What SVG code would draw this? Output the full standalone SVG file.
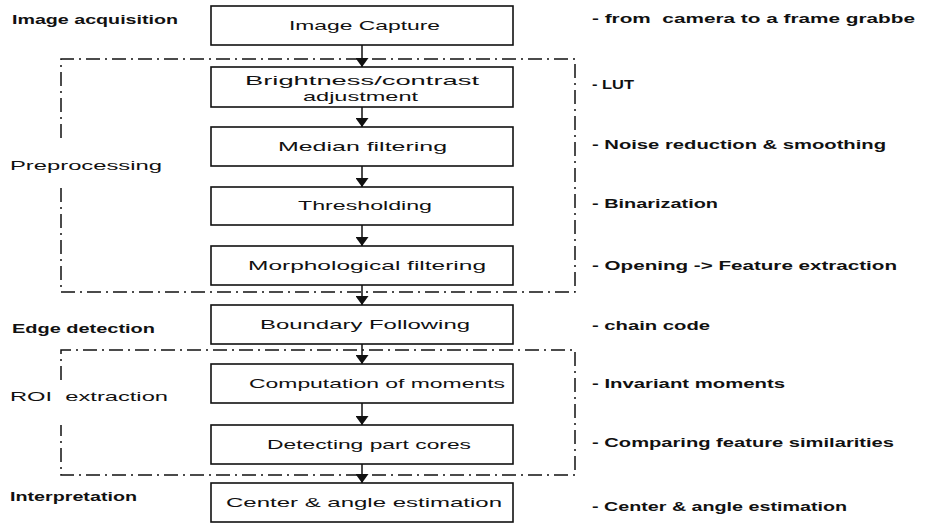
<svg xmlns="http://www.w3.org/2000/svg" width="925" height="525" viewBox="0 0 925 525">
<defs>
<style>
.box{fill:#fff;stroke:#111;stroke-width:1.6}
.frame{fill:none;stroke:#111;stroke-width:1.5;stroke-dasharray:14 5 2 5}
.bt{font-family:"Liberation Sans",Arial,sans-serif;font-size:13px;fill:#111}
.lb{font-family:"Liberation Sans",Arial,sans-serif;font-size:12px;font-weight:bold;fill:#111}
.ln{font-family:"Liberation Sans",Arial,sans-serif;font-size:13px;fill:#111}
.rl{font-family:"Liberation Sans",Arial,sans-serif;font-size:12px;font-weight:bold;fill:#111}
.conn{stroke:#111;stroke-width:1.5;fill:none}
</style>
<marker id="ah" viewBox="0 0 9 13" refX="9" refY="6.5" markerWidth="9" markerHeight="13" markerUnits="userSpaceOnUse" orient="auto">
<path d="M0,0 L9,6.5 L0,13 Z" fill="#111"/>
</marker>
</defs>
<rect width="925" height="525" fill="#fff"/>

<g id="frames">
<path class="frame" d="M61,138 L61,59 L575,59 L575,292 L61,292 L61,184"/>
<path class="frame" d="M61,380 L61,350 L575,350 L575,475 L61,475 L61,425"/>
</g>

<g id="connectors">
<line class="conn" x1="362" y1="45" x2="362" y2="67" marker-end="url(#ah)"/>
<line class="conn" x1="362" y1="107" x2="362" y2="127" marker-end="url(#ah)"/>
<line class="conn" x1="362" y1="166" x2="362" y2="187" marker-end="url(#ah)"/>
<line class="conn" x1="362" y1="225" x2="362" y2="246" marker-end="url(#ah)"/>
<line class="conn" x1="362" y1="285" x2="362" y2="305" marker-end="url(#ah)"/>
<line class="conn" x1="362" y1="344" x2="362" y2="364" marker-end="url(#ah)"/>
<line class="conn" x1="362" y1="403" x2="362" y2="425" marker-end="url(#ah)"/>
<line class="conn" x1="362" y1="464" x2="362" y2="483" marker-end="url(#ah)"/>
</g>

<g id="n1"><rect class="box" x="211" y="6" width="302" height="39"/><text class="bt" x="289" y="30" textLength="151" lengthAdjust="spacingAndGlyphs">Image Capture</text></g>
<g id="n2"><rect class="box" x="211" y="67" width="302" height="40"/><text class="bt" x="245" y="85" textLength="234" lengthAdjust="spacingAndGlyphs">Brightness/contrast</text><text class="bt" x="303" y="101" textLength="115" lengthAdjust="spacingAndGlyphs">adjustment</text></g>
<g id="n3"><rect class="box" x="211" y="127" width="302" height="39"/><text class="bt" x="278" y="151" textLength="169" lengthAdjust="spacingAndGlyphs">Median filtering</text></g>
<g id="n4"><rect class="box" x="211" y="187" width="302" height="38"/><text class="bt" x="298" y="210" textLength="134" lengthAdjust="spacingAndGlyphs">Thresholding</text></g>
<g id="n5"><rect class="box" x="211" y="246" width="302" height="39"/><text class="bt" x="248" y="270" textLength="238" lengthAdjust="spacingAndGlyphs">Morphological filtering</text></g>
<g id="n6"><rect class="box" x="211" y="305" width="302" height="39"/><text class="bt" x="260" y="329" textLength="210" lengthAdjust="spacingAndGlyphs">Boundary Following</text></g>
<g id="n7"><rect class="box" x="211" y="364" width="302" height="39"/><text class="bt" x="249" y="388" textLength="256" lengthAdjust="spacingAndGlyphs">Computation of moments</text></g>
<g id="n8"><rect class="box" x="211" y="425" width="302" height="39"/><text class="bt" x="267" y="449" textLength="204" lengthAdjust="spacingAndGlyphs">Detecting part cores</text></g>
<g id="n9"><rect class="box" x="211" y="483" width="302" height="39"/><text class="bt" x="226" y="507" textLength="276" lengthAdjust="spacingAndGlyphs">Center &amp; angle estimation</text></g>

<g id="left-labels">
<text class="lb" x="12" y="24" textLength="166" lengthAdjust="spacingAndGlyphs">Image acquisition</text>
<text class="ln" x="10" y="170" textLength="152" lengthAdjust="spacingAndGlyphs">Preprocessing</text>
<text class="lb" x="12" y="333" textLength="143" lengthAdjust="spacingAndGlyphs">Edge detection</text>
<text class="ln" x="10" y="401" textLength="158" lengthAdjust="spacingAndGlyphs" xml:space="preserve">ROI  extraction</text>
<text class="lb" x="10" y="501" textLength="127" lengthAdjust="spacingAndGlyphs">Interpretation</text>
</g>

<g id="right-labels">
<text class="rl" x="592" y="23" textLength="323" lengthAdjust="spacingAndGlyphs" xml:space="preserve">- from  camera to a frame grabbe</text>
<text class="rl" x="592" y="89" textLength="42" lengthAdjust="spacingAndGlyphs">- LUT</text>
<text class="rl" x="592" y="149" textLength="294" lengthAdjust="spacingAndGlyphs">- Noise reduction &amp; smoothing</text>
<text class="rl" x="592" y="208" textLength="126" lengthAdjust="spacingAndGlyphs">- Binarization</text>
<text class="rl" x="592" y="270" textLength="305" lengthAdjust="spacingAndGlyphs">- Opening -&gt; Feature extraction</text>
<text class="rl" x="592" y="330" textLength="118" lengthAdjust="spacingAndGlyphs">- chain code</text>
<text class="rl" x="592" y="388" textLength="193" lengthAdjust="spacingAndGlyphs">- Invariant moments</text>
<text class="rl" x="592" y="447" textLength="302" lengthAdjust="spacingAndGlyphs">- Comparing feature similarities</text>
<text class="rl" x="592" y="511" textLength="255" lengthAdjust="spacingAndGlyphs">- Center &amp; angle estimation</text>
</g>
</svg>
